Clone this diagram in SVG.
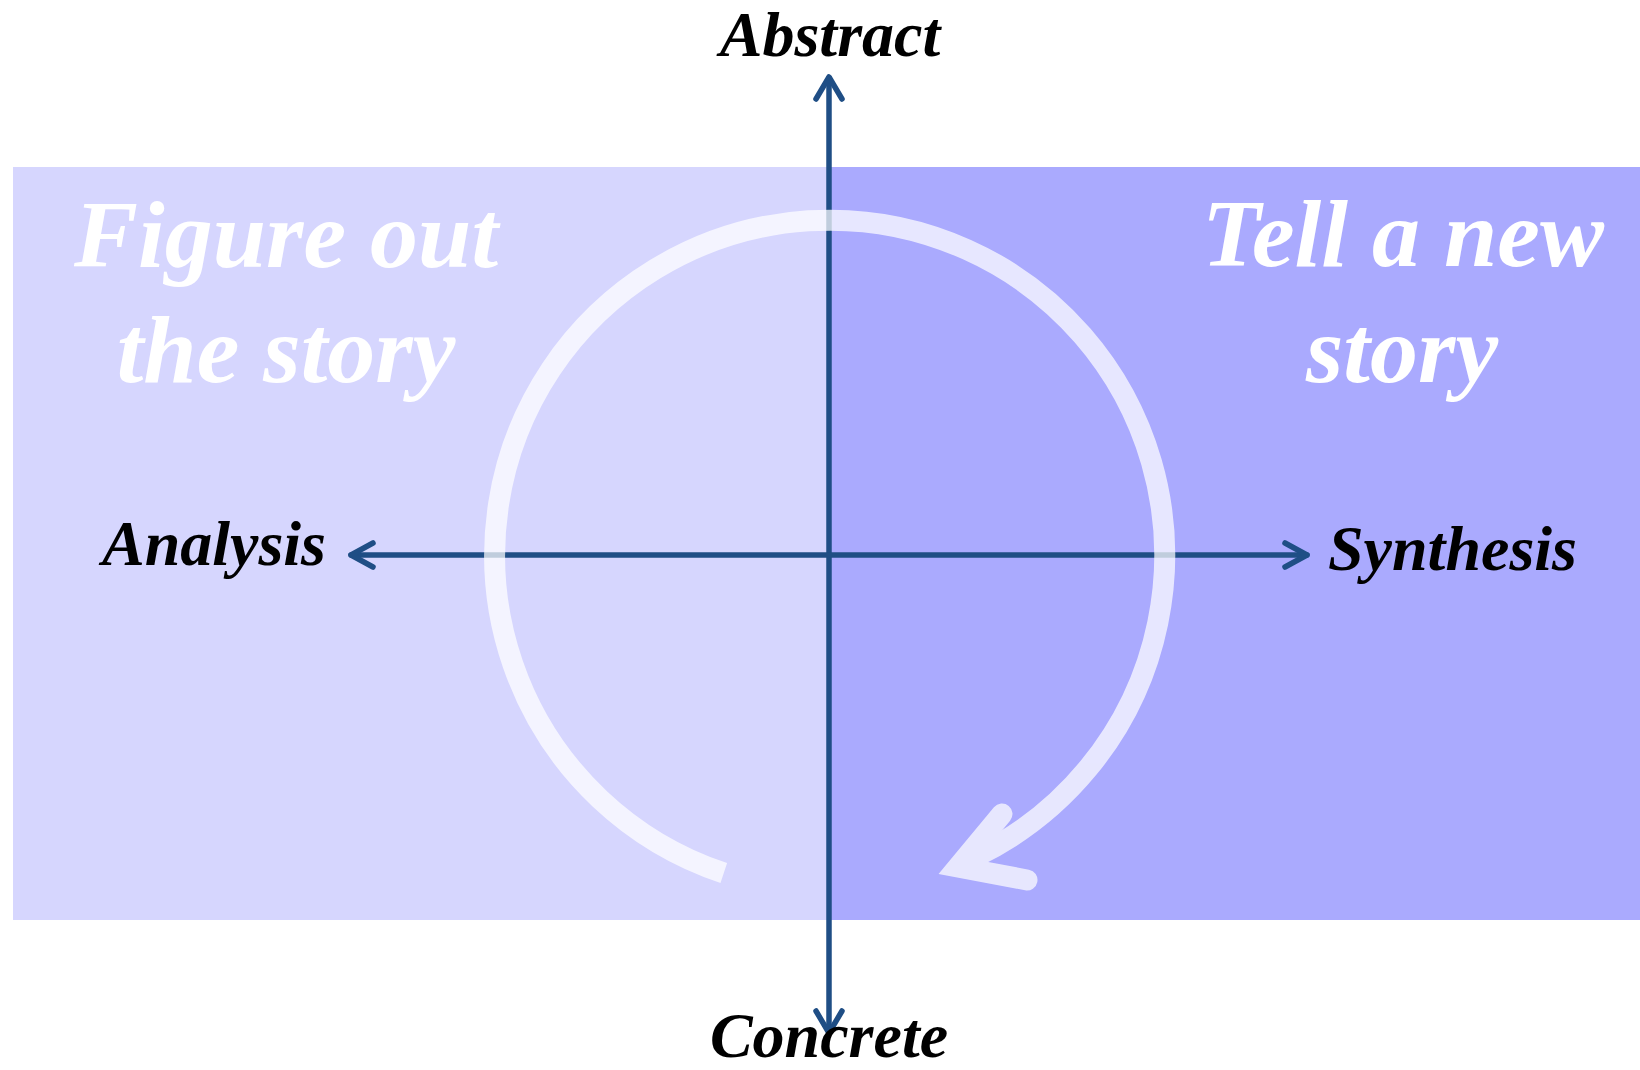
<svg xmlns="http://www.w3.org/2000/svg" width="1640" height="1070" viewBox="0 0 1640 1070">
<style>
.lbl{font-family:"Liberation Serif","Times New Roman",serif;font-weight:bold;font-style:italic;font-size:64px;fill:#000}
.big{font-family:"Liberation Serif","Times New Roman",serif;font-weight:bold;font-style:italic;font-size:96px;fill:#fff}
.axis{stroke:#1F4E85;stroke-width:5.5;fill:none;stroke-linecap:round;stroke-linejoin:round}
</style>
<rect x="0" y="0" width="1640" height="1070" fill="#fff"/>
<g id="left-panel"><rect x="13" y="167" width="816" height="753" fill="#D6D6FE"/></g>
<g id="right-panel"><rect x="829" y="167" width="811" height="753" fill="#AAAAFE"/></g>
<g id="connectors">
<line class="axis" x1="829" y1="78" x2="829" y2="1032"/>
<polyline class="axis" points="816,99 829,77 842,99"/>
<polyline class="axis" points="816,1011 829,1033 842,1011"/>
<line class="axis" x1="351" y1="555" x2="1307" y2="555"/>
<polyline class="axis" points="373,543 351,555 373,567"/>
<polyline class="axis" points="1285,543 1307,555 1285,567"/>
</g>
<g id="cycle" opacity="0.72">
<path d="M723.8,873 A335,335 0 1 1 975,857" fill="none" stroke="#fff" stroke-width="21"/>
<polyline points="1002,814 958,867 1027,880" fill="none" stroke="#fff" stroke-width="21" stroke-linecap="round" stroke-linejoin="miter"/>
</g>
<g id="figure-out"><text class="big" x="286" y="267" text-anchor="middle">Figure out</text><text class="big" x="286" y="382" text-anchor="middle">the story</text></g>
<g id="tell-new"><text class="big" x="1403" y="266" text-anchor="middle">Tell a new</text><text class="big" x="1402" y="382" text-anchor="middle">story</text></g>
<g id="abstract"><text class="lbl" x="830" y="56" text-anchor="middle">Abstract</text></g>
<g id="concrete"><text class="lbl" x="829" y="1057" text-anchor="middle">Concrete</text></g>
<g id="analysis"><text class="lbl" x="326" y="565" text-anchor="end">Analysis</text></g>
<g id="synthesis"><text class="lbl" x="1328" y="570">Synthesis</text></g>
</svg>
